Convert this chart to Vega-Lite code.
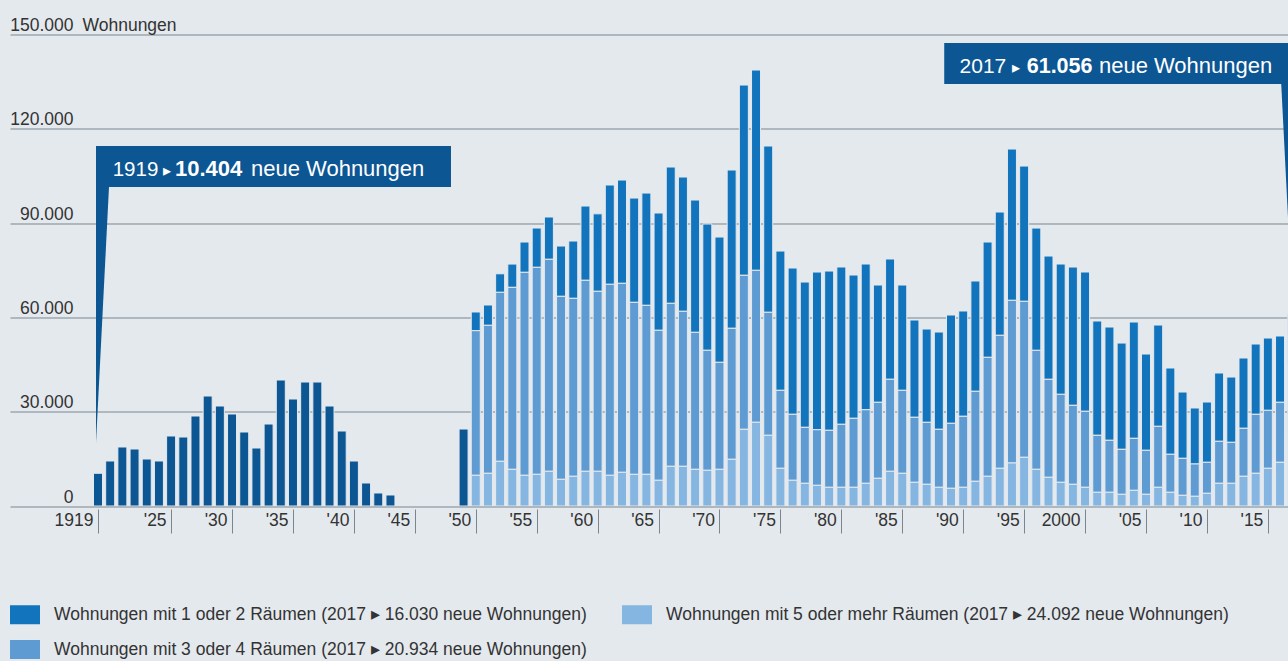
{
  "$schema": "https://vega.github.io/schema/vega-lite/v6.json",
  "width": 1278,
  "height": 471.5,
  "autosize": {"type": "none"},
  "padding": {"left": 10, "top": 34.5, "right": 0, "bottom": 155},
  "background": "#e4e9ee",
  "config": {
    "view": {"stroke": null},
    "font": "'Liberation Sans', Arial, sans-serif"
  },
  "datasets": {
    "raeume": [
      {"year": 1950, "k5": 9770, "k34": 46000, "k12": 5950},
      {"year": 1951, "k5": 10400, "k34": 47080, "k12": 6460},
      {"year": 1952, "k5": 14220, "k34": 53760, "k12": 5890},
      {"year": 1953, "k5": 11670, "k34": 57890, "k12": 7410},
      {"year": 1954, "k5": 9770, "k34": 64570, "k12": 9640},
      {"year": 1955, "k5": 10080, "k34": 65850, "k12": 12500},
      {"year": 1956, "k5": 11040, "k34": 67440, "k12": 13460},
      {"year": 1957, "k5": 8490, "k34": 58210, "k12": 16000},
      {"year": 1958, "k5": 9450, "k34": 56620, "k12": 18230},
      {"year": 1959, "k5": 11040, "k34": 60760, "k12": 23630},
      {"year": 1960, "k5": 11040, "k34": 57260, "k12": 24650},
      {"year": 1961, "k5": 9770, "k34": 60760, "k12": 31590},
      {"year": 1962, "k5": 10720, "k34": 60120, "k12": 32860},
      {"year": 1963, "k5": 10080, "k34": 54710, "k12": 33180},
      {"year": 1964, "k5": 10080, "k34": 53760, "k12": 35720},
      {"year": 1965, "k5": 8180, "k34": 47720, "k12": 37310},
      {"year": 1966, "k5": 12630, "k34": 51850, "k12": 43360},
      {"year": 1967, "k5": 12630, "k34": 49310, "k12": 42720},
      {"year": 1968, "k5": 11670, "k34": 43580, "k12": 42090},
      {"year": 1969, "k5": 11360, "k34": 38170, "k12": 40180},
      {"year": 1970, "k5": 11670, "k34": 34040, "k12": 39860},
      {"year": 1971, "k5": 14860, "k34": 41670, "k12": 50360},
      {"year": 1972, "k5": 24400, "k34": 48990, "k12": 60530},
      {"year": 1973, "k5": 26630, "k34": 48350, "k12": 63720},
      {"year": 1974, "k5": 22490, "k34": 39130, "k12": 52900},
      {"year": 1975, "k5": 11990, "k34": 24810, "k12": 44310},
      {"year": 1976, "k5": 8180, "k34": 20990, "k12": 46540},
      {"year": 1977, "k5": 7220, "k34": 17810, "k12": 46220},
      {"year": 1978, "k5": 6580, "k34": 17690, "k12": 50160},
      {"year": 1979, "k5": 5950, "k34": 18130, "k12": 50670},
      {"year": 1980, "k5": 5950, "k34": 20040, "k12": 50040},
      {"year": 1981, "k5": 5950, "k34": 21950, "k12": 45580},
      {"year": 1982, "k5": 7220, "k34": 23410, "k12": 46350},
      {"year": 1983, "k5": 8810, "k34": 24180, "k12": 37310},
      {"year": 1984, "k5": 11040, "k34": 29270, "k12": 38270},
      {"year": 1985, "k5": 10400, "k34": 26400, "k12": 33500},
      {"year": 1986, "k5": 7540, "k34": 20680, "k12": 30950},
      {"year": 1987, "k5": 6900, "k34": 19720, "k12": 29680},
      {"year": 1988, "k5": 5950, "k34": 18450, "k12": 30950},
      {"year": 1989, "k5": 5630, "k34": 20680, "k12": 34450},
      {"year": 1990, "k5": 5950, "k34": 22590, "k12": 33500},
      {"year": 1991, "k5": 7860, "k34": 28630, "k12": 35090},
      {"year": 1992, "k5": 9450, "k34": 37850, "k12": 36680},
      {"year": 1993, "k5": 11990, "k34": 42310, "k12": 39220},
      {"year": 1994, "k5": 13680, "k34": 51750, "k12": 48130},
      {"year": 1995, "k5": 15490, "k34": 49620, "k12": 43040},
      {"year": 1996, "k5": 11670, "k34": 37850, "k12": 38900},
      {"year": 1997, "k5": 9130, "k34": 31170, "k12": 39220},
      {"year": 1998, "k5": 7540, "k34": 27990, "k12": 41450},
      {"year": 1999, "k5": 6900, "k34": 25130, "k12": 43990},
      {"year": 2000, "k5": 5950, "k34": 24180, "k12": 44310},
      {"year": 2001, "k5": 4360, "k34": 18130, "k12": 36360},
      {"year": 2002, "k5": 4360, "k34": 16540, "k12": 36040},
      {"year": 2003, "k5": 3720, "k34": 14310, "k12": 33810},
      {"year": 2004, "k5": 4990, "k34": 16540, "k12": 37000},
      {"year": 2005, "k5": 3720, "k34": 14000, "k12": 30630},
      {"year": 2006, "k5": 5950, "k34": 19400, "k12": 32220},
      {"year": 2007, "k5": 4360, "k34": 12090, "k12": 27450},
      {"year": 2008, "k5": 3400, "k34": 11770, "k12": 21090},
      {"year": 2009, "k5": 3090, "k34": 10280, "k12": 17810},
      {"year": 2010, "k5": 4040, "k34": 9860, "k12": 19180},
      {"year": 2011, "k5": 7220, "k34": 13360, "k12": 21730},
      {"year": 2012, "k5": 7220, "k34": 13040, "k12": 20770},
      {"year": 2013, "k5": 9450, "k34": 15270, "k12": 22360},
      {"year": 2014, "k5": 10400, "k34": 18770, "k12": 22360},
      {"year": 2015, "k5": 11990, "k34": 18450, "k12": 23000},
      {"year": 2016, "k5": 13900, "k34": 19090, "k12": 21090},
      {"year": 2017, "k5": 24092, "k34": 20934, "k12": 16030}
    ],
    "gesamt": [
      {"year": 1919, "wert": 10404},
      {"year": 1920, "wert": 14320},
      {"year": 1921, "wert": 18770},
      {"year": 1922, "wert": 18130},
      {"year": 1923, "wert": 14950},
      {"year": 1924, "wert": 14320},
      {"year": 1925, "wert": 22270},
      {"year": 1926, "wert": 21950},
      {"year": 1927, "wert": 28630},
      {"year": 1928, "wert": 34990},
      {"year": 1929, "wert": 31810},
      {"year": 1930, "wert": 29270},
      {"year": 1931, "wert": 23540},
      {"year": 1932, "wert": 18450},
      {"year": 1933, "wert": 26080},
      {"year": 1934, "wert": 40080},
      {"year": 1935, "wert": 34040},
      {"year": 1936, "wert": 39440},
      {"year": 1937, "wert": 39440},
      {"year": 1938, "wert": 31810},
      {"year": 1939, "wert": 23860},
      {"year": 1940, "wert": 14310},
      {"year": 1941, "wert": 7320},
      {"year": 1942, "wert": 4140},
      {"year": 1943, "wert": 3500},
      {"year": 1949, "wert": 24490}
    ],
    "hinweis": [
      {"year": 1919, "jahr": "1919", "pfeil": "▸", "zahl": "10.404", "rest": "neue Wohnungen"},
      {"year": 2017, "jahr": "2017", "pfeil": "▸", "zahl": "61.056", "rest": "neue Wohnungen"}
    ]
  },
  "layer": [
    {
      "data": {"name": "raeume"},
      "transform": [{"fold": ["k12", "k34", "k5"], "as": ["kat", "wert"]}],
      "mark": {"type": "bar", "width": 9, "stroke": "#e4e9ee", "strokeWidth": 1, "clip": true},
      "encoding": {
        "x": {
          "field": "year", "type": "quantitative",
          "scale": {"domain": [1911.779, 2016.653], "nice": false, "zero": false, "padding": 0},
          "axis": {
            "title": null,
            "values": [1919, 1925, 1930, 1935, 1940, 1945, 1950, 1955, 1960, 1965, 1970, 1975, 1980, 1985, 1990, 1995, 2000, 2005, 2010, 2015],
            "domain": false, "grid": false, "offset": 3,
            "tickSize": 24, "tickColor": "#7a858f", "tickWidth": 1,
            "labelAlign": "right", "labelBaseline": "alphabetic", "labelPadding": -8, "labelOffset": -5,
            "labelFontSize": 17.5, "labelColor": "#333333",
            "labelFlush": false, "labelOverlap": false, "labelBound": false,
            "labelExpr": "datum.value == 1919 || datum.value == 2000 ? format(datum.value, 'd') : \"'\" + format(datum.value % 100, '02d')"
          }
        },
        "y": {
          "field": "wert", "type": "quantitative", "stack": "zero",
          "scale": {"domain": [0, 150000], "nice": false},
          "axis": {
            "title": "Wohnungen", "titleX": 72, "titleY": -4, "titleAngle": 0, "titleAlign": "left",
            "titleBaseline": "alphabetic", "titleFontSize": 17.5, "titleFontWeight": "normal", "titleColor": "#333333",
            "values": [0, 30000, 60000, 90000, 120000, 150000],
            "domain": false, "ticks": false, "tickSize": 0,
            "grid": true, "gridColor": "#7a858f", "gridWidth": 1, "gridOpacity": 1,
            "labelAlign": "right", "labelBaseline": "alphabetic", "labelPadding": -63, "labelOffset": -4,
            "labelFontSize": 17.5, "labelColor": "#333333",
            "labelFlush": false, "labelOverlap": false, "labelBound": false,
            "labelExpr": "replace(format(datum.value, ','), ',', '.')"
          }
        },
        "color": {
          "field": "kat", "type": "nominal",
          "scale": {"domain": ["k12", "k34", "k5"], "range": ["#1174bc", "#5f9bd3", "#85b5e1"]},
          "legend": {
            "title": null, "orient": "none", "legendX": 5, "legendY": 570, "padding": 0,
            "columns": 2, "columnPadding": 35, "rowPadding": 15,
            "symbolType": "M-1.5,-0.95H1.5V0.95H-1.5Z", "symbolSize": 400,
            "symbolStrokeWidth": 0, "symbolOpacity": 1,
            "labelFontSize": 17.5, "labelColor": "#333333", "labelLimit": 800, "labelOffset": 19,
            "labelExpr": "datum.label == 'k12' ? 'Wohnungen mit 1 oder 2 Räumen (2017 ▸ 16.030 neue Wohnungen)' : datum.label == 'k34' ? 'Wohnungen mit 3 oder 4 Räumen (2017 ▸ 20.934 neue Wohnungen)' : 'Wohnungen mit 5 oder mehr Räumen (2017 ▸ 24.092 neue Wohnungen)'"
          }
        },
        "order": {"field": "kat", "sort": "descending"}
      }
    },
    {
      "data": {"name": "gesamt"},
      "mark": {"type": "bar", "width": 9, "stroke": "#e4e9ee", "strokeWidth": 1, "color": "#0c5693", "clip": true},
      "encoding": {
        "x": {"field": "year", "type": "quantitative"},
        "y": {"field": "wert", "type": "quantitative"}
      }
    },
    {
      "data": {"name": "hinweis"},
      "transform": [{"filter": "datum.year == 1919"}],
      "layer": [
        {
          "mark": {"type": "rect", "color": "#0c5693", "xOffset": -2, "x2Offset": 353, "clip": true},
          "encoding": {
            "x": {"field": "year", "type": "quantitative"},
            "x2": {"field": "year"},
            "y": {"datum": 101470, "type": "quantitative"},
            "y2": {"datum": 114516}
          }
        },
        {
          "mark": {"type": "point", "shape": "M-2,0L11,0L-2,256Z", "size": 4, "filled": true, "opacity": 1, "color": "#0c5693", "strokeWidth": 0, "clip": true},
          "encoding": {
            "x": {"field": "year", "type": "quantitative"},
            "y": {"datum": 101470, "type": "quantitative"}
          }
        },
        {
          "mark": {"type": "text", "align": "left", "baseline": "alphabetic", "dx": 14.7, "fontSize": 20.5, "color": "#ffffff"},
          "encoding": {
            "x": {"field": "year", "type": "quantitative"},
            "y": {"datum": 104973, "type": "quantitative"},
            "text": {"field": "jahr"}
          }
        },
        {
          "mark": {"type": "text", "align": "left", "baseline": "alphabetic", "dx": 65.5, "fontSize": 16, "color": "#ffffff"},
          "encoding": {
            "x": {"field": "year", "type": "quantitative"},
            "y": {"datum": 104973, "type": "quantitative"},
            "text": {"field": "pfeil"}
          }
        },
        {
          "mark": {"type": "text", "align": "left", "baseline": "alphabetic", "dx": 77, "fontSize": 22, "fontWeight": "bold", "color": "#ffffff"},
          "encoding": {
            "x": {"field": "year", "type": "quantitative"},
            "y": {"datum": 104973, "type": "quantitative"},
            "text": {"field": "zahl"}
          }
        },
        {
          "mark": {"type": "text", "align": "left", "baseline": "alphabetic", "dx": 153, "fontSize": 22, "color": "#ffffff"},
          "encoding": {
            "x": {"field": "year", "type": "quantitative"},
            "y": {"datum": 104973, "type": "quantitative"},
            "text": {"field": "rest"}
          }
        }
      ]
    },
    {
      "data": {"name": "hinweis"},
      "transform": [{"filter": "datum.year == 2017"}],
      "layer": [
        {
          "mark": {"type": "rect", "color": "#0c5693", "xOffset": -348, "x2Offset": 2, "clip": true},
          "encoding": {
            "x": {"field": "year", "type": "quantitative"},
            "x2": {"field": "year"},
            "y": {"datum": 134240, "type": "quantitative"},
            "y2": {"datum": 147280}
          }
        },
        {
          "mark": {"type": "point", "shape": "M2,0L-11,0L2,256Z", "size": 4, "filled": true, "opacity": 1, "color": "#0c5693", "strokeWidth": 0, "clip": true},
          "encoding": {
            "x": {"field": "year", "type": "quantitative"},
            "y": {"datum": 134240, "type": "quantitative"}
          }
        },
        {
          "mark": {"type": "text", "align": "left", "baseline": "alphabetic", "dx": -332.7, "fontSize": 21, "color": "#ffffff"},
          "encoding": {
            "x": {"field": "year", "type": "quantitative"},
            "y": {"datum": 137830, "type": "quantitative"},
            "text": {"field": "jahr"}
          }
        },
        {
          "mark": {"type": "text", "align": "left", "baseline": "alphabetic", "dx": -280, "fontSize": 16, "color": "#ffffff"},
          "encoding": {
            "x": {"field": "year", "type": "quantitative"},
            "y": {"datum": 137830, "type": "quantitative"},
            "text": {"field": "pfeil"}
          }
        },
        {
          "mark": {"type": "text", "align": "left", "baseline": "alphabetic", "dx": -265.5, "fontSize": 21.5, "fontWeight": "bold", "color": "#ffffff"},
          "encoding": {
            "x": {"field": "year", "type": "quantitative"},
            "y": {"datum": 137830, "type": "quantitative"},
            "text": {"field": "zahl"}
          }
        },
        {
          "mark": {"type": "text", "align": "left", "baseline": "alphabetic", "dx": -193.3, "fontSize": 22, "color": "#ffffff"},
          "encoding": {
            "x": {"field": "year", "type": "quantitative"},
            "y": {"datum": 137830, "type": "quantitative"},
            "text": {"field": "rest"}
          }
        }
      ]
    }
  ]
}
